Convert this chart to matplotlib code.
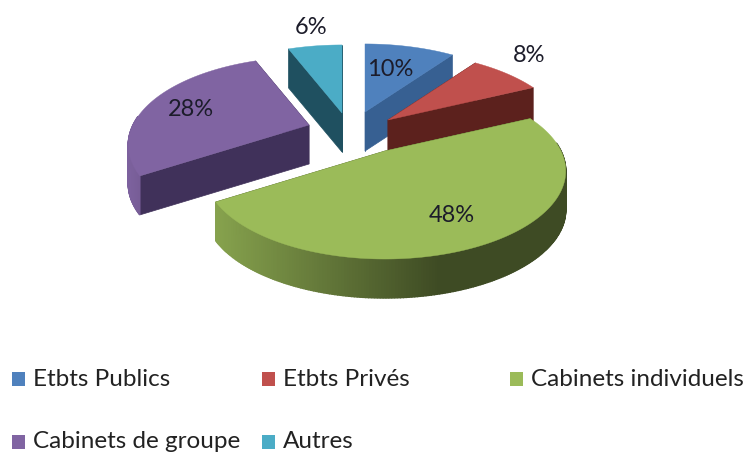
import numpy as np
from matplotlib import pyplot as plt
from matplotlib.colors import to_rgb

categories = ['Etbts Publics', 'Etbts Privés', 'Cabinets individuels', 'Cabinets de groupe', 'Autres']
shares = [10, 8, 48, 28, 6]

top_colors = ['#4f81bd', '#c0504d', '#9bbb59', '#8064a2', '#4bacc6']
wall_colors = ['#376092', '#5c211d', '#4f6228', '#40315a', '#1f5060']
# exploded slice tips, in pixels
tips = [(365, 112), (388, 120), (385, 151), (309, 125), (342, 113)]
label_pos = [(390, 70), (529, 56), (452, 215), (191, 110), (311, 27)]
legend_pos = [(12, 379), (262, 379), (510, 379), (12, 442), (262, 442)]

rx, ry, persp, depth = 176, 83.5, 0.227, 39

plt.rcParams['font.family'] = ['Lato', 'DejaVu Sans']
fig = plt.figure(figsize=(7.48, 4.55), dpi=100)
ax = fig.add_axes([0, 0, 1, 1])
ax.set_xlim(0, 748)
ax.set_ylim(455, 0)
ax.axis('off')


def project(tip, theta):
    """Point of the tilted disc, theta in degrees clockwise from the top."""
    u, v = np.sin(np.radians(theta)), np.cos(np.radians(theta))
    d = 1 + persp * v
    return tip[0] + rx * u / d, tip[1] - ry * v / d


def shade(color, f):
    return tuple(c * f for c in to_rgb(color))


def outer_color(i, x):
    # the curved side gets darker from left to right
    if i == 2:
        t = np.clip((x - 210) / 230, 0, 1)
        return shade('#9bbb59', 0.88 - 0.48 * t)
    return shade(top_colors[i], np.clip(0.98 - 0.004 * (x - 127), 0.4, 1))


def draw_slice(i, start, end):
    tip = tips[i]
    thetas = np.linspace(start, end, 240)
    xs, ys = project(tip, thetas)
    # flat side walls
    for x, y in [(xs[0], ys[0]), (xs[-1], ys[-1])]:
        ax.fill([tip[0], x, x, tip[0]], [tip[1], y, y + depth, tip[1] + depth],
                color=wall_colors[i], lw=0.5, zorder=i_order[i])
    # curved outer wall, small quads, only the part facing us
    for k in range(len(xs) - 1):
        if np.cos(np.radians(thetas[k])) > 0.1:
            continue
        ax.fill([xs[k], xs[k + 1], xs[k + 1], xs[k]],
                [ys[k], ys[k + 1], ys[k + 1] + depth, ys[k] + depth],
                color=outer_color(i, xs[k]), lw=1, zorder=i_order[i])
    ax.fill(np.r_[tip[0], xs], np.r_[tip[1], ys], color=top_colors[i], lw=0.3, zorder=i_order[i] + 0.5)


i_order = [1, 3, 4, 2, 1]
edges = np.cumsum([0] + shares) / sum(shares) * 360
for i in range(len(shares)):
    draw_slice(i, edges[i], edges[i + 1])

for value, (x, y) in zip(shares, label_pos):
    ax.text(x, y, '{}%'.format(value), ha='center', va='center', fontsize=17, color='#1c1c2a', zorder=6)

for i, name in enumerate(categories):
    x, y = legend_pos[i]
    ax.fill([x, x + 13, x + 13, x], [y - 7, y - 7, y + 7, y + 7], color=top_colors[i], lw=0)
    ax.text(x + 21, y, name, ha='left', va='center', fontsize=17.5, color='#222222')

fig.savefig('out.png', dpi=100)
